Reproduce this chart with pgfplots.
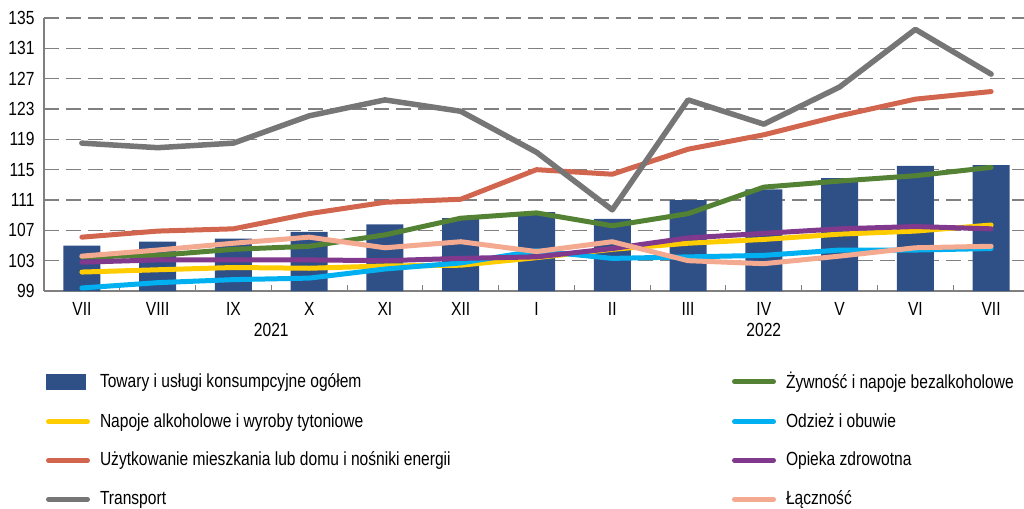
\documentclass[border=0pt]{standalone}
\usepackage{pgfplots}
\pgfplotsset{compat=1.18}
\usepackage{fontspec}
\setmainfont{Liberation Sans}[FakeStretch=0.82]
\definecolor{barcol}{RGB}{47,80,135}
\definecolor{cgreen}{RGB}{84,130,53}
\definecolor{cyellow}{RGB}{255,204,0}
\definecolor{ccyan}{RGB}{0,176,240}
\definecolor{cred}{RGB}{209,101,77}
\definecolor{cgray}{RGB}{118,118,118}
\definecolor{cpurple}{RGB}{128,57,140}
\definecolor{cpink}{RGB}{244,170,145}
\definecolor{axgray}{RGB}{128,128,128}
\begin{document}
\fontsize{19pt}{23pt}\selectfont
\begin{tikzpicture}
\useasboundingbox (0,0) rectangle (1024pt,-508pt);
\begin{axis}[
  at={(44pt,-291pt)}, anchor=south west,
  scale only axis, width=985pt, height=273pt,
  xmin=-0.5, xmax=12.5, ymin=99, ymax=135,
  clip mode=individual,
  axis x line=bottom, axis y line=left,
  axis line style={draw=axgray, line width=1.3pt, -},
  ytick={99,103,...,135},
  ymajorgrids,
  major grid style={draw=axgray, line width=1.3pt, dash pattern=on 15pt off 7pt},
  xtick={0,...,12},
  xticklabels={VII,VIII,IX,X,XI,XII,I,II,III,IV,V,VI,VII},
  major tick length=0pt,
  minor xtick={0.5,1.5,...,11.5},
  minor tick length=6pt, tick align=inside,
  minor tick style={draw=axgray, line width=1pt},
  tick label style={font=\fontsize{19pt}{23pt}\selectfont, /pgf/number format/assume math mode=true},
  yticklabel style={xshift=-3pt},
  xticklabel style={yshift=-5pt},
  legend columns=4, transpose legend,
  legend cell align=left,
  legend style={draw=none, fill=none, inner sep=0pt, outer sep=0pt,
    at={(axis description cs:0,0)}, anchor=north west, xshift=2pt, yshift=-79pt,
    row sep=18pt,
    /tikz/every odd column/.append style={column sep=8pt},
    font=\fontsize{19pt}{23pt}\selectfont},
  every axis plot/.append style={line join=round, line cap=round},
]
\addplot[ybar, bar width=37pt, fill=barcol, draw=none,
  legend image code/.code={\fill[barcol] (0pt,-8pt) rectangle (40pt,8pt);}]
  coordinates {(0,105.0) (1,105.5) (2,105.9) (3,106.8) (4,107.8) (5,108.6) (6,109.4) (7,108.5) (8,111.0) (9,112.4) (10,113.9) (11,115.5) (12,115.6)};
\addlegendentry{\makebox[630pt][l]{Towary i usługi konsumpcyjne ogółem}}
\pgfplotsset{legend image code/.code={\draw[#1, line width=5pt, line cap=round] (2.5pt,0pt) -- (41.5pt,0pt);}}
\addplot[cyellow, line width=5pt]
  coordinates {(0,101.5) (1,101.8) (2,102.1) (3,102.0) (4,102.3) (5,102.4) (6,103.4) (7,104.5) (8,105.3) (9,105.8) (10,106.5) (11,106.9) (12,107.7)};
\addlegendentry{\makebox[630pt][l]{Napoje alkoholowe i wyroby tytoniowe}}
\addplot[cred, line width=5pt]
  coordinates {(0,106.1) (1,106.9) (2,107.2) (3,109.2) (4,110.7) (5,111.1) (6,115.0) (7,114.4) (8,117.7) (9,119.6) (10,122.1) (11,124.3) (12,125.3)};
\addlegendentry{\makebox[630pt][l]{Użytkowanie mieszkania lub domu i nośniki energii}}
\addplot[cgray, line width=5.5pt]
  coordinates {(0,118.5) (1,117.9) (2,118.5) (3,122.1) (4,124.2) (5,122.7) (6,117.3) (7,109.7) (8,124.2) (9,121.0) (10,125.9) (11,133.5) (12,127.6)};
\addlegendentry{\makebox[630pt][l]{Transport}}
\addplot[cgreen, line width=5pt]
  coordinates {(0,103.5) (1,103.7) (2,104.5) (3,104.9) (4,106.4) (5,108.6) (6,109.3) (7,107.6) (8,109.2) (9,112.7) (10,113.5) (11,114.2) (12,115.3)};
\addlegendentry{Żywność i napoje bezalkoholowe}
\addplot[ccyan, line width=5pt]
  coordinates {(0,99.4) (1,100.1) (2,100.5) (3,100.7) (4,101.9) (5,102.7) (6,104.3) (7,103.3) (8,103.5) (9,103.7) (10,104.4) (11,104.4) (12,104.6)};
\addlegendentry{Odzież i obuwie}
\addplot[cpurple, line width=5pt]
  coordinates {(0,102.8) (1,103.1) (2,103.1) (3,103.1) (4,103.0) (5,103.3) (6,103.5) (7,104.6) (8,106.0) (9,106.6) (10,107.2) (11,107.5) (12,107.2)};
\addlegendentry{Opieka zdrowotna}
\addplot[cpink, line width=5pt]
  coordinates {(0,103.6) (1,104.4) (2,105.3) (3,106.1) (4,104.7) (5,105.5) (6,104.2) (7,105.5) (8,103.0) (9,102.6) (10,103.6) (11,104.7) (12,104.9)};
\addlegendentry{Łączność}
\node[anchor=north, inner sep=0pt, font=\fontsize{19pt}{23pt}\selectfont] at (axis cs:2.5,99) [yshift=-32pt] {2021};
\node[anchor=north, inner sep=0pt, font=\fontsize{19pt}{23pt}\selectfont] at (axis cs:9,99) [yshift=-32pt] {2022};
\end{axis}
\end{tikzpicture}
\end{document}
